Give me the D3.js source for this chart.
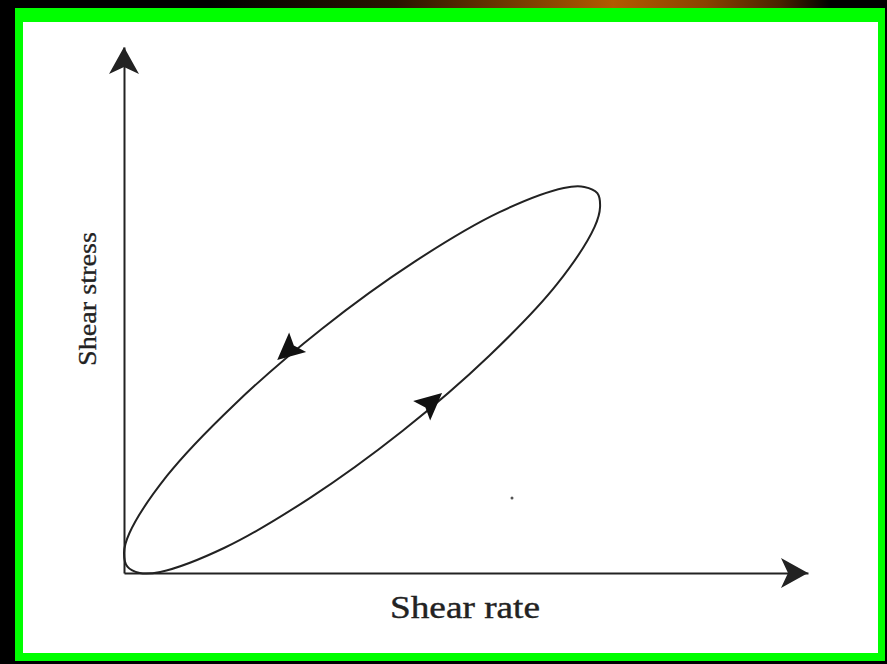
<!DOCTYPE html>
<html>
<head>
<meta charset="utf-8">
<script src="https://cdn.jsdelivr.net/npm/d3@7"></script>
<style>
  html, body { margin: 0; padding: 0; background: #000; }
  svg { display: block; }
</style>
</head>
<body>
<svg width="887" height="664"></svg>
<script>
// hysteresis loop (shear rate, shear stress in arbitrary units 0..10)
// first the loading branch (lower), then the unloading branch (upper)
const loopRate   = [0.05, 0.23, 0.53, 1.47, 2.71, 4.07, 5.34, 6.33, 6.88, 6.96, 6.92, 6.73, 6.43, 5.49, 4.25, 2.89, 1.62, 0.63, 0.08, 0.00];
const loopStress = [0.12, 0.00, 0.02, 0.48, 1.42, 2.70, 4.13, 5.49, 6.58, 6.96, 7.22, 7.34, 7.32, 6.86, 5.92, 4.64, 3.21, 1.85, 0.76, 0.38];

// direction arrows on the loop: tip position + the loop segment they follow
const arrowRate   = [2.24, 4.65];
const arrowStress = [4.05, 3.42];
const arrowSeg    = [[15, 16], [5, 6]];

const xLabel = "Shear rate";
const yLabel = "Shear stress";

const svg = d3.select("svg");

// frame: black page, green border, white card
svg.append("rect").attr("width", 887).attr("height", 664).attr("fill", "#000");

const grad = svg.append("defs").append("linearGradient")
    .attr("id", "topglow").attr("x1", "0").attr("x2", "1");
grad.append("stop").attr("offset", "0").attr("stop-color", "#000");
grad.append("stop").attr("offset", "0.3").attr("stop-color", "#2a1400");
grad.append("stop").attr("offset", "0.65").attr("stop-color", "#b35a00");
grad.append("stop").attr("offset", "0.8").attr("stop-color", "#8a4200");
grad.append("stop").attr("offset", "0.92").attr("stop-color", "#4a2200");
grad.append("stop").attr("offset", "1").attr("stop-color", "#000");
svg.append("rect").attr("x", 210).attr("y", 0).attr("width", 620).attr("height", 9)
    .attr("fill", "url(#topglow)");

svg.append("rect").attr("x", 15).attr("y", 8).attr("width", 870).attr("height", 653).attr("fill", "#00ff00");
svg.append("rect").attr("x", 23).attr("y", 22).attr("width", 855).attr("height", 631).attr("fill", "#fff");

// scales: origin at the axis corner, arrow tips at 10
const x = d3.scaleLinear().domain([0, 10]).range([124, 808]);
const y = d3.scaleLinear().domain([0, 10]).range([573, 47]);

const ink = "#222";

// axes without ticks, just the lines
svg.append("g")
    .attr("transform", `translate(0,${y(0)})`)
    .call(d3.axisBottom(x).ticks(0).tickSizeOuter(0))
    .call(g => g.select(".domain").attr("stroke", ink).attr("stroke-width", 2));

svg.append("g")
    .attr("transform", `translate(${x(0)},0)`)
    .call(d3.axisLeft(y).ticks(0).tickSizeOuter(0))
    .call(g => g.select(".domain").attr("stroke", ink).attr("stroke-width", 2));

// notched arrow head pointing along +x, tip at origin
const head = "M0,0 L-27,-15 L-20,0 L-27,15 Z";

svg.append("path").attr("d", head).attr("fill", ink)
    .attr("transform", `translate(${x(10)},${y(0)})`);
svg.append("path").attr("d", head).attr("fill", ink)
    .attr("transform", `translate(${x(0)},${y(10)}) rotate(-90)`);

// the loop
const pts = loopRate.map((r, i) => [x(r), y(loopStress[i])]);
svg.append("path")
    .attr("d", d3.line().curve(d3.curveCatmullRomClosed.alpha(0.5))(pts))
    .attr("fill", "none")
    .attr("stroke", ink)
    .attr("stroke-width", 2);

// arrows on the loop
const smallHead = "M0,0 L-27,-13 L-22,0 L-27,13 Z";
arrowRate.forEach((r, i) => {
    const [a, b] = arrowSeg[i];
    const ang = Math.atan2(pts[b][1] - pts[a][1], pts[b][0] - pts[a][0]) * 180 / Math.PI;
    svg.append("path").attr("d", smallHead).attr("fill", "#111")
        .attr("transform", `translate(${x(r)},${y(arrowStress[i])}) rotate(${ang})`);
});

// labels
svg.append("text")
    .attr("x", 390).attr("y", 618)
    .attr("textLength", 150).attr("lengthAdjust", "spacingAndGlyphs")
    .attr("font-family", "'Liberation Serif', 'DejaVu Serif', serif")
    .attr("font-size", 31)
    .attr("fill", "#222")
    .attr("stroke", "#222").attr("stroke-width", 0.4)
    .text(xLabel);

svg.append("text")
    .attr("transform", "translate(96,366) rotate(-90)")
    .attr("textLength", 134).attr("lengthAdjust", "spacingAndGlyphs")
    .attr("font-family", "'Liberation Serif', 'DejaVu Serif', serif")
    .attr("font-size", 26)
    .attr("fill", "#222")
    .attr("stroke", "#222").attr("stroke-width", 0.3)
    .text(yLabel);

// the small speck in the scan
svg.append("circle").attr("cx", 512).attr("cy", 498).attr("r", 1.5).attr("fill", "#555");
</script>
</body>
</html>
